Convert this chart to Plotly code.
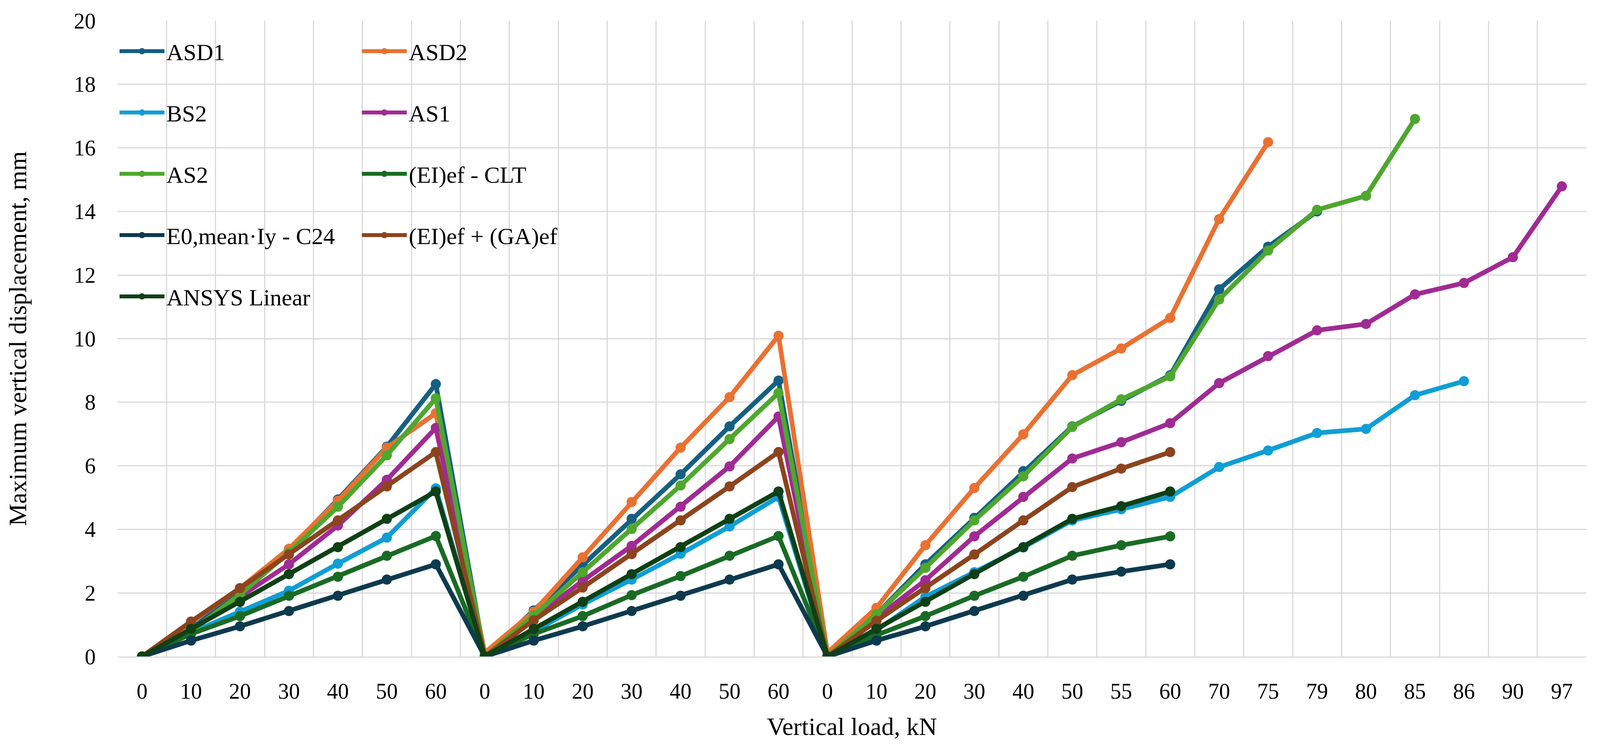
import plotly.graph_objects as go

x_labels = ["0", "10", "20", "30", "40", "50", "60",
            "0", "10", "20", "30", "40", "50", "60",
            "0", "10", "20", "30", "40", "50", "55", "60", "70", "75", "79", "80", "85", "86", "90", "97"]

asd1 = [0, 0.87, 2.03, 3.35, 4.94, 6.60, 8.57,
        0, 1.45, 2.88, 4.33, 5.73, 7.24, 8.68,
        0, 1.33, 2.90, 4.36, 5.83, 7.24, 8.04, 8.85, 11.55, 12.89, 14.00, None, None, None, None, None]
asd2 = [0, 1.06, 2.15, 3.39, 4.90, 6.57, 7.65,
        0.12, 1.41, 3.12, 4.86, 6.57, 8.16, 10.09,
        0.12, 1.53, 3.50, 5.30, 6.99, 8.85, 9.69, 10.65, 13.76, 16.18, None, None, None, None, None, None]
bs2 = [0, 0.75, 1.41, 2.07, 2.92, 3.74, 5.29,
       0, 0.79, 1.64, 2.42, 3.23, 4.09, 5.02,
       0, 0.83, 1.88, 2.65, 3.43, 4.28, 4.63, 5.02, 5.96, 6.48, 7.03, 7.16, 8.22, 8.66, None, None]
as1 = [0, 0.83, 1.88, 2.90, 4.12, 5.56, 7.19,
       0, 1.22, 2.38, 3.48, 4.71, 5.98, 7.55,
       0, 1.22, 2.40, 3.78, 5.02, 6.23, 6.74, 7.34, 8.60, 9.45, 10.26, 10.46, 11.39, 11.75, 12.56, 14.79]
as2 = [0, 0.79, 1.95, 3.27, 4.71, 6.33, 8.12,
       0, 1.29, 2.65, 4.01, 5.38, 6.84, 8.29,
       0, 1.33, 2.79, 4.28, 5.67, 7.22, 8.09, 8.81, 11.23, 12.77, 14.05, 14.49, 16.91, None, None, None]
ei_clt = [0, 0.71, 1.27, 1.91, 2.51, 3.17, 3.79,
          0, 0.71, 1.27, 1.93, 2.53, 3.17, 3.79,
          0, 0.67, 1.27, 1.91, 2.51, 3.17, 3.50, 3.78, None, None, None, None, None, None, None, None]
e0_c24 = [0, 0.50, 0.95, 1.43, 1.91, 2.42, 2.90,
          0, 0.50, 0.95, 1.43, 1.91, 2.42, 2.90,
          0, 0.50, 0.95, 1.43, 1.91, 2.42, 2.67, 2.90, None, None, None, None, None, None, None, None]
ei_ga = [0, 1.10, 2.15, 3.21, 4.28, 5.35, 6.43,
         0, 1.14, 2.17, 3.22, 4.28, 5.35, 6.43,
         0, 1.12, 2.15, 3.21, 4.28, 5.33, 5.91, 6.43, None, None, None, None, None, None, None, None]
ansys = [0, 0.87, 1.72, 2.59, 3.44, 4.33, 5.19,
         0, 0.87, 1.72, 2.59, 3.44, 4.33, 5.19,
         0, 0.87, 1.72, 2.59, 3.44, 4.33, 4.73, 5.19, None, None, None, None, None, None, None, None]

series = [
    ("ASD1", asd1, "#156082", "legend"),
    ("ASD2", asd2, "#E97132", "legend2"),
    ("BS2", bs2, "#0F9ED5", "legend"),
    ("AS1", as1, "#A02B93", "legend2"),
    ("AS2", as2, "#4EA72E", "legend"),
    ("(EI)ef - CLT", ei_clt, "#196B24", "legend2"),
    ("E0,mean·Iy - C24", e0_c24, "#0D3A4E", "legend"),
    ("(EI)ef + (GA)ef", ei_ga, "#8C441E", "legend2"),
    ("ANSYS Linear", ansys, "#0F4016", "legend"),
]

FONT = "Liberation Serif"
xs = list(range(len(x_labels)))

fig = go.Figure()
for name, vals, color, leg in series:
    fig.add_trace(go.Scatter(
        x=xs, y=vals, name=name, mode="lines+markers",
        line=dict(color=color, width=12),
        marker=dict(color=color, size=26),
        legend=leg, legendgroup=name,
    ))

grid = "#D9D9D9"
fig.update_layout(
    margin=dict(l=293, r=27, t=45, b=234),
    paper_bgcolor="white", plot_bgcolor="white",
    font=dict(family=FONT, size=56, color="black"),
    showlegend=True,
    xaxis=dict(
        range=[-0.5, len(x_labels) - 0.5],
        tickmode="array", tickvals=xs, ticktext=x_labels,
        showgrid=False, zeroline=False,
        showline=True, linecolor=grid, linewidth=3,
        ticks="", ticklabelstandoff=38,
        tickfont=dict(family=FONT, size=56, color="black"),
        minor=dict(tickmode="array", tickvals=[i - 0.5 for i in range(len(x_labels) + 1)],
                   showgrid=True, gridcolor=grid, gridwidth=3, ticks=""),
        title=dict(text="Vertical load, kN", font=dict(family=FONT, size=64, color="black"), standoff=37),
        automargin=False,
    ),
    yaxis=dict(
        range=[0, 20], dtick=2, tick0=0,
        showgrid=True, gridcolor=grid, gridwidth=3,
        zeroline=False, showline=False,
        ticks="", ticklabelstandoff=55,
        tickfont=dict(family=FONT, size=56, color="black"),
        title=dict(text="Maximum vertical displacement, mm", font=dict(family=FONT, size=64, color="black"), standoff=100),
        automargin=False,
    ),
    legend=dict(
        x=0.0, y=0.98, xanchor="left", yanchor="top",
        bgcolor="rgba(0,0,0,0)", font=dict(family=FONT, size=60, color="black"),
        itemwidth=115, tracegroupgap=76, traceorder="grouped",
    ),
    legend2=dict(
        x=0.165, y=0.98, xanchor="left", yanchor="top",
        bgcolor="rgba(0,0,0,0)", font=dict(family=FONT, size=60, color="black"),
        itemwidth=115, tracegroupgap=76, traceorder="grouped",
    ),
    shapes=[dict(type="rect", xref="paper", yref="paper", x0=0.0018, x1=0.3278, y0=0.505, y1=0.997,
                 fillcolor="white", line=dict(width=0), layer="between")],
)

fig.write_html("out.html")
